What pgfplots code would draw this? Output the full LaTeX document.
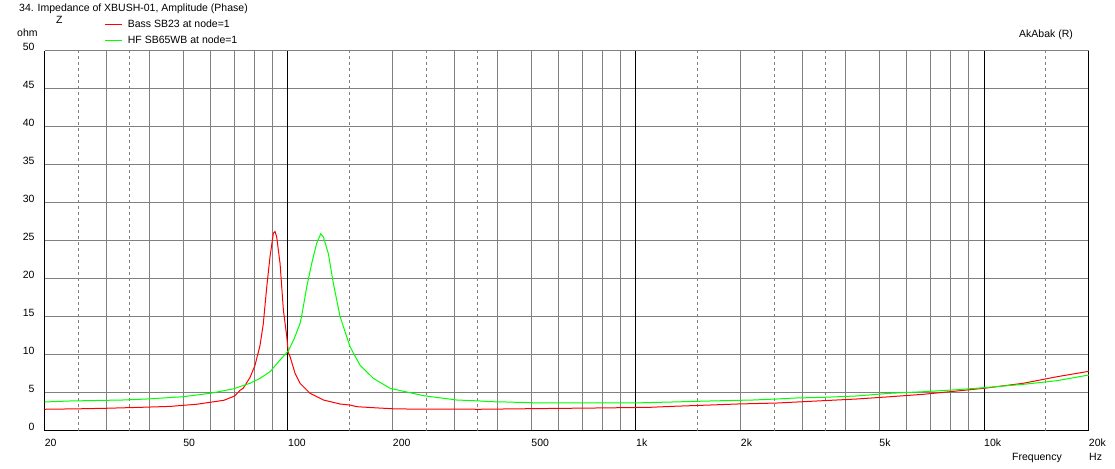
\documentclass[border=0pt]{standalone}
\usepackage{fontspec}
\setmainfont{Liberation Sans}
\usepackage{pgfplots}
\pgfplotsset{compat=1.18}
\definecolor{gridgray}{RGB}{128,128,128}
\definecolor{zred}{RGB}{255,0,0}
\definecolor{zgreen}{RGB}{0,255,0}
\newcommand{\fs}{\fontsize{10.5}{12.6}\selectfont}
\begin{document}
\begin{tikzpicture}[x=1pt,y=1pt]
\useasboundingbox (0,0) rectangle (1115,468);
\begin{axis}[
  at={(44.7pt,37.3pt)}, anchor=south west,
  scale only axis, width=1044pt, height=380pt,
  xmode=log, xmin=20, xmax=20000, ymin=0, ymax=50,
  axis lines*=left, axis line style={black, line width=1pt},
  xtick={20,50,100,200,500,1000,2000,5000,10000,20000},
  xticklabels={20,50,100,200,500,1k,2k,5k,10k,20k},
  minor xtick={30,40,60,70,80,90,300,400,600,700,800,900,3000,4000,6000,7000,8000,9000},
  extra x ticks={25,35,150,250,350,1500,2500,3500,15000},
  extra x tick labels={},
  extra x tick style={grid=major, major grid style={gridgray, line width=1pt, dash pattern=on 3pt off 3pt}},
  ytick={0,5,...,50},
  grid=both,
  major grid style={gridgray, line width=1pt},
  minor grid style={gridgray, line width=1pt},
  major tick length=0pt, minor tick length=0pt,
  tick style={draw=none},
  /pgf/number format/assume math mode=true,
  ticklabel style={font=\fs, inner sep=0pt},
  xticklabel style={anchor=north west, yshift=-8pt},
  yticklabel style={anchor=south east, xshift=-10pt},
]
\addplot[black, line width=1pt, forget plot] coordinates {(100,0) (100,50)};
\addplot[black, line width=1pt, forget plot] coordinates {(1000,0) (1000,50)};
\addplot[black, line width=1pt, forget plot] coordinates {(10000,0) (10000,50)};
\addplot[black, line width=1pt, forget plot] coordinates {(20000,0) (20000,50)};
% Bass SB23 at node=1
\addplot[color=zred, line width=1pt] coordinates {
(20,2.82)(25,2.88)(30,2.95)(38,3.08)(46,3.2)(50,3.34)(54.5,3.47)(59.8,3.74)(65.4,4.0)(70.3,4.57)(72.8,5.3)(74.4,5.6)(77.8,7.0)(80.4,8.6)(83.1,11.2)(84.9,14.0)(86.9,18.9)(88.8,22.9)(90.8,26.0)(91.8,26.2)(92.8,25.5)(94.9,22.0)(97.0,15.9)(99.2,12.4)(100.2,10.3)(101.4,9.74)(104.8,7.55)(108.3,6.24)(115.7,4.92)(126.4,4.04)(141.2,3.51)(150.8,3.38)(157.6,3.16)(180,3.0)(205,2.86)(356,2.82)(506,2.9)(816,3.0)(1100,3.08)(1281,3.21)(1634,3.38)(1946,3.51)(2536,3.64)(2772,3.73)(3453,3.95)(4306,4.17)(5369,4.47)(6695,4.79)(8350,5.22)(10000,5.58)(12970,6.24)(16200,7.1)(20000,7.81)
};
% HF SB65WB at node=1
\addplot[color=zgreen, line width=1pt] coordinates {
(20,3.78)(23.6,3.91)(33.6,4.04)(39.3,4.17)(50,4.47)(59.8,4.92)(69.6,5.5)(77.8,6.24)(83.1,6.89)(88.8,7.76)(94.9,9.3)(100.2,10.5)(104,12.0)(108.3,14.1)(109.6,15.2)(113.2,18.9)(117,22.0)(121,24.7)(124.2,25.9)(126.4,25.5)(130.6,23.3)(135,19.4)(141.2,15.0)(150.8,11.05)(161,8.64)(175.9,6.89)(196.4,5.58)(245,4.61)(305,4.04)(356,3.91)(381,3.82)(420,3.78)(520,3.66)(1000,3.66)(1281,3.78)(1634,3.91)(2172,4.04)(2536,4.17)(2863,4.3)(3453,4.39)(4306,4.57)(5369,4.92)(6695,5.13)(8350,5.39)(10000,5.66)(12970,6.1)(16200,6.58)(20000,7.33)
};
\end{axis}
% legend
\draw[draw=zgreen, line width=1pt] (105,427.5) -- (122,427.5);
\draw[draw=zred, line width=1.2pt] (105,443.5) -- (122,443.5);
\node[anchor=base west, font=\fs, inner sep=0pt] at (127.7,440.5) {Bass SB23 at node=1};
\node[anchor=base west, font=\fs, inner sep=0pt] at (127.7,424.2) {HF SB65WB at node=1};
% texts
\node[anchor=base west, font=\fs, inner sep=0pt] at (19,456.5) {34. Impedance of XBUSH-01, Amplitude (Phase)};
\node[anchor=base west, font=\fs, inner sep=0pt] at (56,444.5) {Z};
\node[anchor=base west, font=\fs, inner sep=0pt] at (17,431.3) {ohm};
\node[anchor=base west, font=\fs, inner sep=0pt] at (1019,430.3) {AkAbak (R)};
\node[anchor=base west, font=\fs, inner sep=0pt] at (1012,8) {Frequency};
\node[anchor=base west, font=\fs, inner sep=0pt] at (1089,8) {Hz};
\end{tikzpicture}
\end{document}
